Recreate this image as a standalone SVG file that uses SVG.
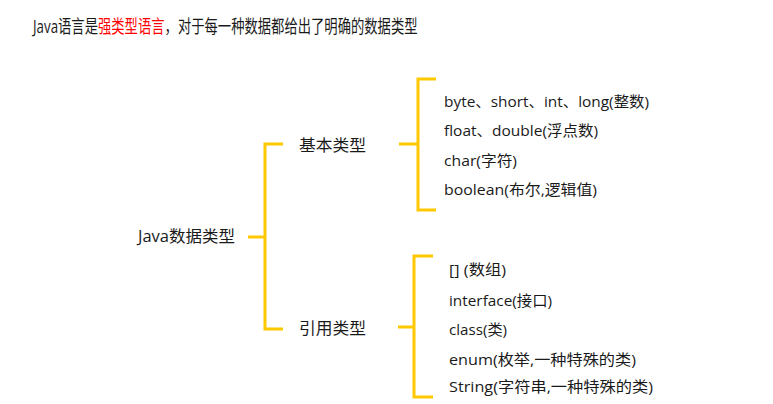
<svg xmlns="http://www.w3.org/2000/svg" width="773" height="404" viewBox="0 0 773 404">
<style>
text{font-family:"Open Sans","Noto Sans CJK SC",sans-serif;fill:#1a1a1a;}
.t{font-size:18px;}
.n{font-size:16px;}
.i{font-size:15px;}
.red{fill:#ff0000;}
.br{fill:none;stroke:#ffc800;stroke-width:3;}
</style>
<rect width="773" height="404" fill="#ffffff"/>
<g id="title" transform="translate(33,33) scale(0.74,1)">
<text class="t" x="0" y="0">Java语言是<tspan class="red">强类型语言</tspan>，对于每一种数据都给出了明确的数据类型</text>
</g>
<g id="connectors">
<path class="br" d="M248,237 H265 M283,144 H265 V329 H283"/>
<path class="br" d="M399,144 H418 M436,79 H418 V210 H436"/>
<path class="br" d="M398,327 H414 M433,256 H414 V397 H433"/>
</g>
<g id="root"><text class="n" x="138" y="242" textLength="97" lengthAdjust="spacingAndGlyphs">Java数据类型</text></g>
<g id="basic"><text class="n" x="299" y="151" textLength="67" lengthAdjust="spacingAndGlyphs">基本类型</text></g>
<g id="ref"><text class="n" x="299" y="334" textLength="67" lengthAdjust="spacingAndGlyphs">引用类型</text></g>
<g id="basic-items">
<text class="i" x="444" y="107" textLength="205" lengthAdjust="spacingAndGlyphs">byte、short、int、long(整数)</text>
<text class="i" x="444" y="136" textLength="154" lengthAdjust="spacingAndGlyphs">float、double(浮点数)</text>
<text class="i" x="444" y="166" textLength="73" lengthAdjust="spacingAndGlyphs">char(字符)</text>
<text class="i" x="444" y="195" textLength="153" lengthAdjust="spacingAndGlyphs">boolean(布尔,逻辑值)</text>
</g>
<g id="ref-items">
<text class="i" x="449" y="275" textLength="57" lengthAdjust="spacingAndGlyphs">[] (数组)</text>
<text class="i" x="449" y="306" textLength="103" lengthAdjust="spacingAndGlyphs">interface(接口)</text>
<text class="i" x="449" y="335" textLength="58" lengthAdjust="spacingAndGlyphs">class(类)</text>
<text class="i" x="449" y="365" textLength="187" lengthAdjust="spacingAndGlyphs">enum(枚举,一种特殊的类)</text>
<text class="i" x="449" y="392" textLength="204" lengthAdjust="spacingAndGlyphs">String(字符串,一种特殊的类)</text>
</g>
</svg>
